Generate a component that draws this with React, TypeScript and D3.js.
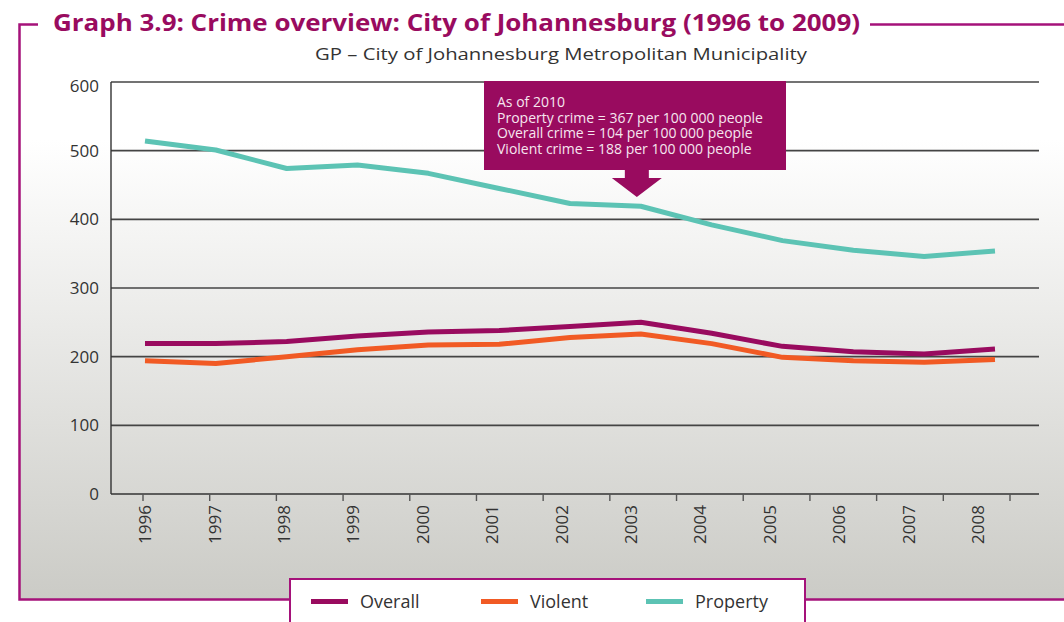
import React from "react";
import * as d3 from "d3";

const years = ["1996","1997","1998","1999","2000","2001","2002","2003","2004","2005","2006","2007","2008"];
const overall = [219, 219, 222, 230, 236, 238, 244, 250, 234, 215, 207, 204, 211];
const violent = [194, 190, 200, 210, 217, 218, 228, 233, 219, 199, 194, 192, 196];
const property = [514, 501, 474, 479, 467, 445, 423, 419, 392, 369, 355, 346, 354];
const yTicks = [0, 100, 200, 300, 400, 500, 600];
const tickSlots = 14;

const seriesNames = ["Overall", "Violent", "Property"];
const seriesColors = ["#990b5f", "#f15a24", "#5cc3b4"];
const noteLines = [
  "As of 2010",
  "Property crime = 367 per 100 000 people",
  "Overall crime = 104 per 100 000 people",
  "Violent crime = 188 per 100 000 people",
];
const noteYear = "2003";

const MAGENTA = "#990b5f";
const FRAME = "#a5127a";
const FONT = "'Open Sans', 'Noto Sans', sans-serif";

export default function App() {
  const W = 1064, H = 622;
  const left = 111, right = 1039, top = 82, bottom = 494;
  const y = d3.scaleLinear().domain([0, 600]).range([bottom, top]);
  const xData = d3.scalePoint<string>().domain(years).range([145, 995]);
  const xLabel = d3.scalePoint<string>().domain(years).range([145, 978]);
  const xTick = d3.scaleLinear().domain([0, tickSlots - 1]).range([143, 1010]);
  const line = d3.line<number>().x((_, i) => xData(years[i]) as number).y((v) => y(v));
  const series = [overall, violent, property];

  const ax = xData(noteYear) as number;
  const boxL = 484, boxR = 786, boxT = 81, boxB = 170;
  const arrowX = ax - 4;

  return (
    <svg width={W} height={H} style={{ position: "absolute", left: 0, top: 0 }} fontFamily={FONT}>
      <defs>
        <linearGradient id="bg" x1="0" y1="0" x2="0" y2="1">
          <stop offset="0" stopColor="#ffffff" />
          <stop offset="1" stopColor="#cbcbc6" />
        </linearGradient>
      </defs>
      <rect x={0} y={0} width={W} height={H} fill="#fff" />
      <rect x={19.5} y={140} width={W - 19.5} height={599.5 - 140} fill="url(#bg)" />

      {/* frame */}
      <path d={`M38,24.5 H19.5 V599.5 H290`} fill="none" stroke={FRAME} strokeWidth={2.5} />
      <path d={`M870,24.5 H${W}`} fill="none" stroke={FRAME} strokeWidth={2.5} />
      <path d={`M805,599.5 H${W}`} fill="none" stroke={FRAME} strokeWidth={2.5} />

      {/* titles */}
      <text x={53} y={31} fontSize={24} fontWeight="bold" fill={MAGENTA} textLength={807} lengthAdjust="spacingAndGlyphs">
        Graph 3.9: Crime overview: City of Johannesburg (1996 to 2009)
      </text>
      <text x={315} y={60} fontSize={17} fill="#333" textLength={492} lengthAdjust="spacingAndGlyphs">
        GP – City of Johannesburg Metropolitan Municipality
      </text>

      {/* grid */}
      {yTicks.map((t) => (
        <g key={t}>
          {t > 0 && (
            <line x1={left} x2={right} y1={y(t)} y2={y(t)} stroke="#444" strokeWidth={1.6} />
          )}
          <text x={99} y={y(t) + (t === 600 ? 4 : 0)} dy="0.36em" textAnchor="end" fontSize={17} fill="#333">
            {t}
          </text>
        </g>
      ))}
      <line x1={left} x2={left} y1={top} y2={bottom} stroke="#333" strokeWidth={1.4} />
      <line x1={left} x2={right} y1={bottom} y2={bottom} stroke="#333" strokeWidth={1.6} />
      {d3.range(tickSlots).map((i) => (
        <line key={i} x1={xTick(i)} x2={xTick(i)} y1={bottom} y2={bottom + 7} stroke="#555" strokeWidth={1.4} />
      ))}
      {years.map((yr) => (
        <text
          key={yr}
          transform={`translate(${xLabel(yr)},505) rotate(-90)`}
          textAnchor="end"
          dy="0.36em"
          fontSize={17}
          fill="#333"
        >
          {yr}
        </text>
      ))}

      {/* lines */}
      {series.map((s, i) => (
        <path key={i} d={line(s) as string} fill="none" stroke={seriesColors[i]} strokeWidth={5} strokeLinejoin="round" />
      ))}

      {/* annotation */}
      <rect x={boxL} y={boxT} width={boxR - boxL} height={boxB - boxT} fill={MAGENTA} />
      <path
        d={`M${arrowX - 12},${boxB} H${arrowX + 12} V178 H${arrowX + 25} L${arrowX},197 L${arrowX - 25},178 H${arrowX - 12} Z`}
        fill={MAGENTA}
      />
      {noteLines.map((t, i) => (
        <text key={i} x={497} y={107 + i * 15.6} fontSize={14} fill="#f6e6ef">
          {t}
        </text>
      ))}

      {/* legend */}
      <rect x={290} y={579} width={515} height={60} fill="#fff" stroke={FRAME} strokeWidth={2} />
      {seriesNames.map((n, i) => {
        const lx = [311, 481, 646][i];
        return (
          <g key={n}>
            <line x1={lx} x2={lx + 37} y1={601.5} y2={601.5} stroke={seriesColors[i]} strokeWidth={5} />
            <text x={lx + 49} y={608} fontSize={18} fill="#333">
              {n}
            </text>
          </g>
        );
      })}
    </svg>
  );
}
